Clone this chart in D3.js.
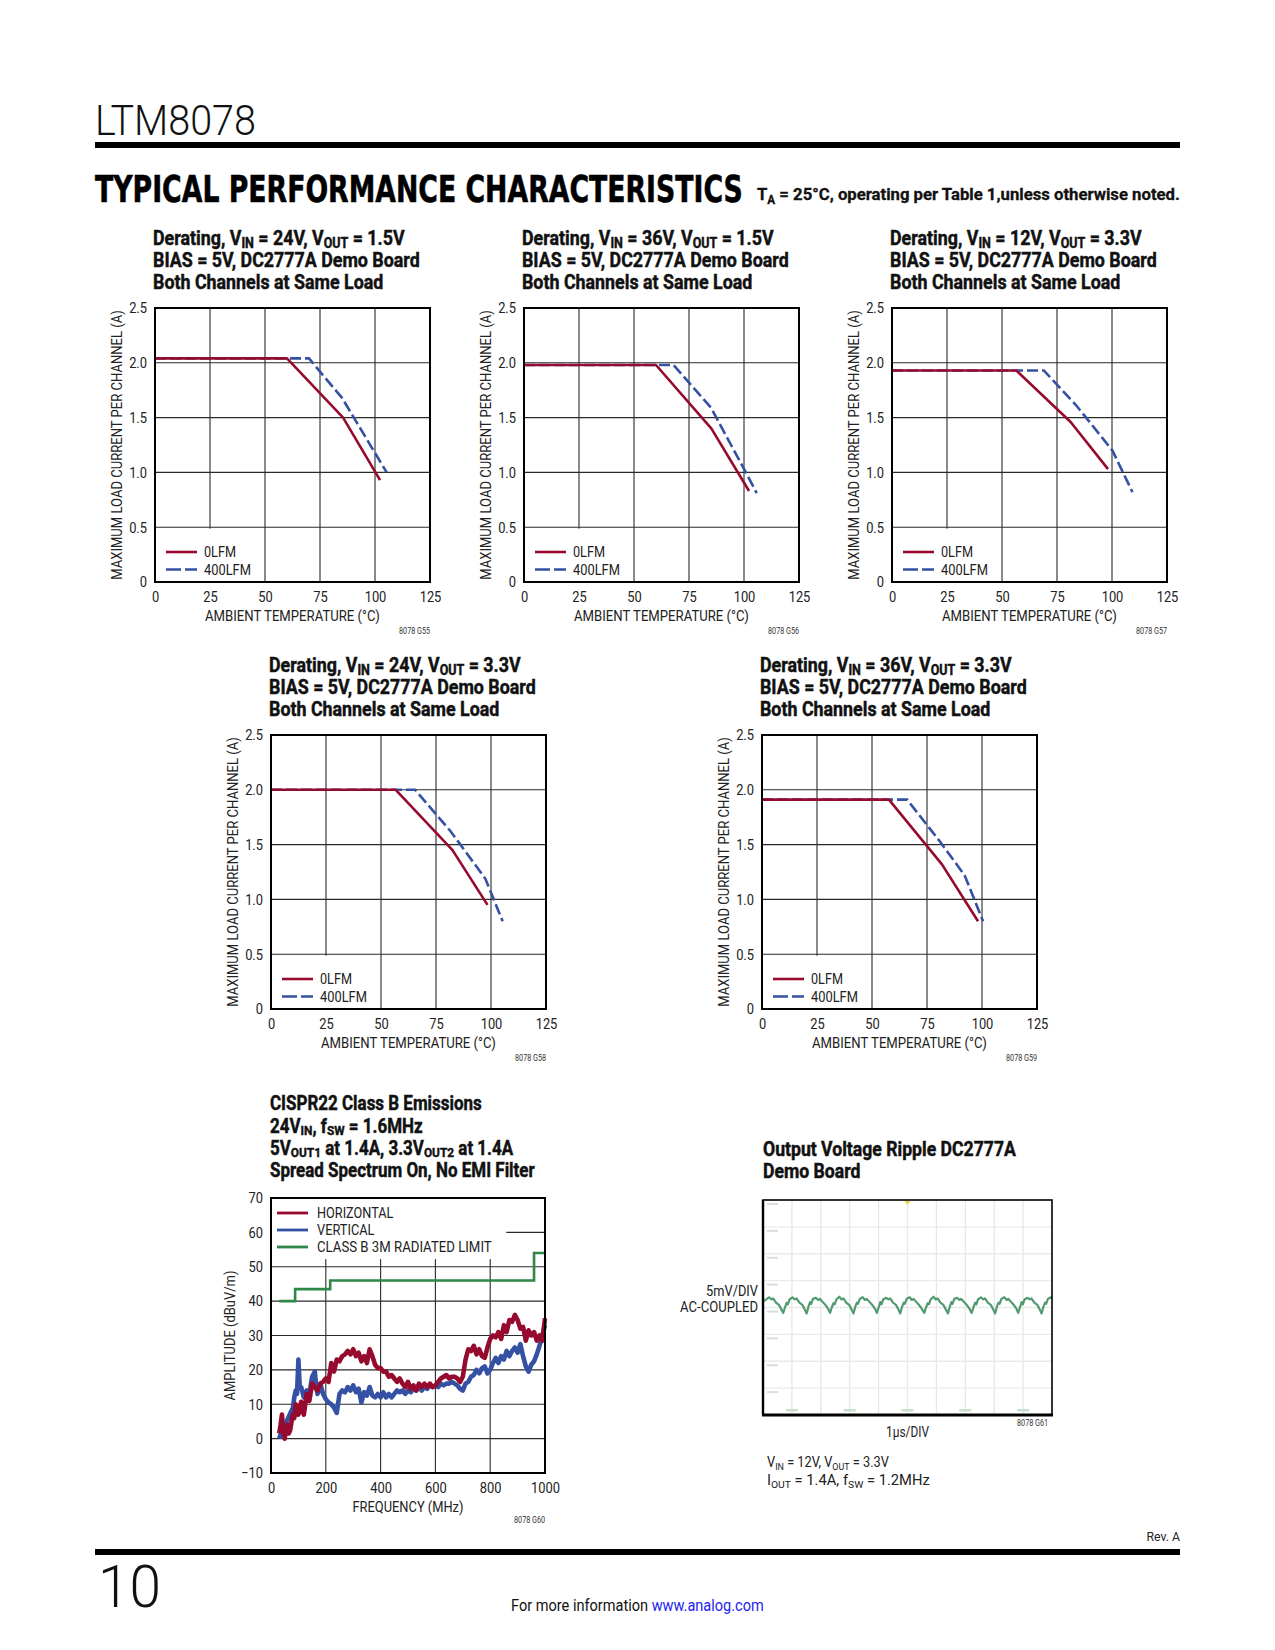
<!DOCTYPE html>
<html><head><meta charset="utf-8">
<script src="https://cdn.jsdelivr.net/npm/d3@7"></script>
<style>body{margin:0;background:#fff}svg{display:block}</style>
</head><body>
<svg id="page" width="1275" height="1650"></svg>
<script>
// ---------------- DATA ----------------
const tempTicks = [0, 25, 50, 75, 100, 125];
const currentTicks = [0, 0.5, 1.0, 1.5, 2.0, 2.5];
const currentTickLabels = ["0", "0.5", "1.0", "1.5", "2.0", "2.5"];
const derateLegend = ["0LFM", "400LFM"];

// [ambient °C, max load current A]
const g55_0LFM = [[0, 2.04], [60, 2.04], [85.5, 1.50], [102.3, 0.93]];
const g55_400LFM = [[0, 2.04], [70, 2.04], [85, 1.68], [105.3, 1.0]];
const g56_0LFM = [[0, 1.98], [60, 1.98], [85.2, 1.40], [102.3, 0.83]];
const g56_400LFM = [[0, 1.98], [68, 1.98], [85, 1.59], [99.5, 1.05], [105.8, 0.81]];
const g57_0LFM = [[0, 1.93], [56.5, 1.93], [81.2, 1.46], [98.2, 1.03]];
const g57_400LFM = [[0, 1.93], [69, 1.93], [83.8, 1.61], [100.2, 1.20], [109.3, 0.82]];
const g58_0LFM = [[0, 2.0], [56.7, 2.0], [82.5, 1.45], [98.4, 0.95]];
const g58_400LFM = [[0, 2.0], [65.5, 2.0], [81.7, 1.62], [97.4, 1.19], [105.3, 0.80]];
const g59_0LFM = [[0, 1.91], [57.7, 1.91], [81.8, 1.32], [98.2, 0.80]];
const g59_400LFM = [[0, 1.91], [66, 1.91], [80.8, 1.53], [92.1, 1.22], [100.5, 0.80]];

// CISPR22 emissions
const freqTicks = [0, 200, 400, 600, 800, 1000];
const ampTicks = [-10, 0, 10, 20, 30, 40, 50, 60, 70];
const ampTickLabels = ["\u221210", "0", "10", "20", "30", "40", "50", "60", "70"];
const emiLegend = ["HORIZONTAL", "VERTICAL", "CLASS B 3M RADIATED LIMIT"];
const limitFreq = [30, 88, 88, 216, 216, 960, 960, 1000];
const limitAmp = [40, 40, 43.5, 43.5, 46, 46, 54, 54];
const horizFreq = [30,35,40,45,50,55,60,65,70,75,80,85,90,95,100,105,110,115,120,125,130,140,150,160,170,180,190,200,210,220,230,240,250,260,270,280,290,300,310,320,330,340,350,360,370,380,390,400,410,420,430,440,450,460,470,480,490,500,510,520,530,540,550,560,570,580,590,600,610,620,630,640,650,660,670,680,690,700,710,720,730,740,750,760,770,780,790,800,810,820,830,840,850,860,870,880,890,900,910,920,930,940,950,960,970,980,990,1000];
const horizAmp = [1.5,4,7,2,0,3,4,1.5,2.5,5,7,6,10,8,7,9,10.7,8,7,10,13,11,16,15,14,16,16.5,17.5,16.5,22,19.5,23,22.5,24,24.5,25.5,24.5,26,24,25,22.5,24,22,26,24,21.5,20.5,20.5,19.5,19.5,18,18.5,17.5,16.5,17.5,16,15,16.5,14.5,15.5,14,16,15,16,15,16,15,15.5,16.5,17.5,18,18.5,17.5,18,18,17.5,16.5,18,23,26,25.5,27,24.5,26,24,23.5,26.5,29,30,29.5,31,29,33,31,34.5,34,36,34.5,32,32.5,28.5,31.5,30,31,28.5,30,28.5,35];
const vertFreq = [30,40,50,60,70,80,85,90,95,100,105,110,120,130,140,150,160,165,170,180,190,200,210,220,230,240,250,260,270,280,290,300,310,320,330,340,350,360,370,380,390,400,410,420,430,440,450,460,470,480,490,500,510,520,530,540,550,560,570,580,590,600,610,620,630,640,650,660,670,680,690,700,710,720,730,740,750,760,770,780,790,800,810,820,830,840,850,860,870,880,890,900,910,920,930,940,950,960,970,980,990,1000];
const vertAmp = [0,2.5,3.5,5.5,7.3,9,12,14,13,23,15,15,12,14,13,18,19.5,15,13,16,13,11.5,10.5,10,9,7.5,13,14,13.5,15,14,15.5,13.5,14.5,10.5,13.5,12.5,15,12.5,12,13,12,13.5,12,13,12,13,14,13.5,14,13,14,13.5,14.5,14,15,14,15,14.5,15.5,15,15.5,15,16,15.5,16,16,16.5,16,15.5,14.5,14,16,16.5,18,18.5,20,19,20.5,21,19,20,22,23.5,22,24,23,25.5,24,25.5,26.5,25,27.5,24,21,19.5,21.5,22.5,24.5,27,30,33];

// Output voltage ripple: [time µs, AC-coupled mV]
const ripple = [
  [0,1.1],[0.11,1.5],[0.21,1.9],[0.29,1.5],[0.35,1.7],[0.45,0.9],[0.55,0.5],[0.63,-0.3],
  [0.70,-1.0],[0.76,0.0],[0.82,0.9],[0.86,0.6],[0.92,1.5],[1.02,1.9],[1.10,1.5],[1.16,1.7],[1.26,0.9],[1.36,0.5],[1.44,-0.3],
  [1.51,-1.1],[1.57,0.1],[1.63,1.0],[1.67,0.7],[1.73,1.6],[1.83,1.8],[1.91,1.4],[1.97,1.6],[2.07,1.0],[2.17,0.4],[2.25,-0.2],
  [2.32,-1.0],[2.38,0.0],[2.44,0.8],[2.48,0.6],[2.54,1.5],[2.64,2.0],[2.72,1.5],[2.78,1.7],[2.88,0.9],[2.98,0.5],[3.06,-0.3],
  [3.13,-1.1],[3.19,0.1],[3.25,0.9],[3.29,0.7],[3.35,1.6],[3.45,1.9],[3.53,1.4],[3.59,1.6],[3.69,1.0],[3.79,0.4],[3.87,-0.2],
  [3.94,-1.0],[4.00,0.0],[4.06,1.0],[4.10,0.6],[4.16,1.5],[4.26,1.8],[4.34,1.5],[4.40,1.7],[4.50,0.9],[4.60,0.5],[4.68,-0.3],
  [4.75,-1.1],[4.81,0.1],[4.87,0.9],[4.91,0.7],[4.97,1.6],[5.07,1.9],[5.15,1.4],[5.21,1.6],[5.31,1.0],[5.41,0.4],[5.49,-0.2],
  [5.58,-1.0],[5.64,0.0],[5.70,0.8],[5.74,0.6],[5.80,1.5],[5.90,2.0],[5.98,1.5],[6.04,1.7],[6.14,0.9],[6.24,0.5],[6.32,-0.3],
  [6.40,-1.1],[6.46,0.1],[6.52,1.0],[6.56,0.7],[6.62,1.6],[6.72,1.8],[6.80,1.4],[6.86,1.6],[6.96,1.0],[7.06,0.4],[7.14,-0.2],
  [7.22,-1.0],[7.28,0.0],[7.34,0.9],[7.38,0.6],[7.44,1.5],[7.54,1.9],[7.62,1.5],[7.68,1.7],[7.78,0.9],[7.88,0.5],[7.96,-0.3],
  [8.03,-1.1],[8.09,0.1],[8.15,0.9],[8.19,0.7],[8.25,1.6],[8.35,1.9],[8.43,1.4],[8.49,1.6],[8.59,1.0],[8.69,0.4],[8.77,-0.2],
  [8.83,-1.0],[8.89,0.0],[8.95,1.0],[8.99,0.6],[9.05,1.5],[9.15,1.8],[9.23,1.5],[9.29,1.7],[9.39,0.9],[9.49,0.5],[9.57,-0.3],
  [9.64,-1.1],[9.70,0.1],[9.76,0.9],[9.80,0.7],[9.86,1.6],[9.96,1.9],[10.0,1.6]
];
const scopeTimeDomain = [0, 10];
const scopeMvDomain = [-20, 20];

// ---------------- STYLE ----------------
const SANS = "Roboto,'Liberation Sans',Arial,sans-serif";
const RED = "#960a2e", BLUE = "#3551a3", GREEN = "#2e8746", INK = "#1a1a1a", GRID = "#2a2a2a";
const TICK_SX = 0.86;
const svg = d3.select("#page");

function buildText(parent, x, y, segs, o) {
  const size = o.size;
  const t = parent.append("text").attr("x", x).attr("y", y)
    .style("font-family", o.family || SANS).style("font-size", size + "px")
    .style("font-weight", o.weight || "normal").attr("fill", o.fill || INK)
    .attr("text-anchor", o.anchor || "start");
  if (o.heavy) t.attr("stroke", o.fill || INK).attr("stroke-width", o.heavy);
  const shift = o.subShift || Math.round(size * 0.2);
  let down = false;
  (typeof segs === "string" ? [segs] : segs).forEach(s => {
    const [str, sub, color] = Array.isArray(s) ? s : [s];
    const ts = t.append("tspan").text(str);
    if (color) ts.attr("fill", color);
    if (sub) {
      ts.style("font-size", (size * 0.7) + "px");
      if (!down) { ts.attr("dy", shift); down = true; }
    } else if (down) { ts.attr("dy", -shift); down = false; }
  });
  return t;
}
function measure(segs, o) {
  const t = buildText(svg, 0, -100, segs, o);
  const w = t.node().getBBox().width;
  t.remove();
  return w;
}
function addText(parent, x, y, segs, o) {
  const t = buildText(parent, x, y, segs, o);
  let k = o.sx || 1;
  if (o.fit) k = o.fit / t.node().getBBox().width;
  const rot = o.rotate || 0;
  if (k !== 1 || rot) t.attr("transform", `translate(${x},${y}) rotate(${rot}) scale(${k},1) translate(${-x},${-y})`);
  return t;
}

function styleAxis(a, size) {
  a.select(".domain").remove();
  a.selectAll("text").style("font-family", SANS).style("font-size", size + "px").attr("fill", "#222")
    .attr("transform", function () {
      const xx = +this.getAttribute("x") || 0;
      return `translate(${xx},0) scale(${TICK_SX},1) translate(${-xx},0)`;
    });
}

const PW = 275, PH = 274;
const TITLE_O = { size: 20, weight: "bold", fill: "#111", heavy: 0.45, subShift: 2.5 };
const deratingTitleK = 267 / measure("BIAS = 5V, DC2777A Demo Board", TITLE_O);

function deratingChart(c) {
  const g = svg.append("g");
  const x = d3.scaleLinear().domain([tempTicks[0], tempTicks[tempTicks.length - 1]]).range([c.left, c.left + PW]);
  const y = d3.scaleLinear().domain([currentTicks[0], currentTicks[currentTicks.length - 1]]).range([c.top + PH, c.top]);
  c.title.forEach((line, i) => addText(g, c.left - 2, c.top - 62.5 + i * 22, line, Object.assign({ sx: deratingTitleK }, TITLE_O)));
  g.append("g").selectAll("line").data(tempTicks.slice(1, -1)).join("line")
    .attr("x1", d => x(d)).attr("x2", d => x(d)).attr("y1", c.top).attr("y2", c.top + PH)
    .attr("stroke", GRID).attr("stroke-width", 1.1);
  g.append("g").selectAll("line").data(currentTicks.slice(1, -1)).join("line")
    .attr("y1", d => y(d)).attr("y2", d => y(d)).attr("x1", c.left).attr("x2", c.left + PW)
    .attr("stroke", GRID).attr("stroke-width", 1.1);
  // legend background
  g.append("rect").attr("x", c.left + 1).attr("y", y(0.5) + 1.5).attr("width", 98)
    .attr("height", y(0) - y(0.5) - 2.5).attr("fill", "#fff");
  const line = d3.line().x(d => x(d[0])).y(d => y(d[1]));
  g.append("path").datum(c.s400).attr("d", line).attr("fill", "none").attr("stroke", BLUE)
    .attr("stroke-width", 2.6).attr("stroke-dasharray", "11,4");
  g.append("path").datum(c.s0).attr("d", line).attr("fill", "none").attr("stroke", RED)
    .attr("stroke-width", 2.6).attr("stroke-linejoin", "round");
  g.append("rect").attr("x", c.left).attr("y", c.top).attr("width", PW).attr("height", PH)
    .attr("fill", "none").attr("stroke", "#000").attr("stroke-width", 2);
  const ax = g.append("g").attr("transform", `translate(0,${c.top + PH})`)
    .call(d3.axisBottom(x).tickValues(tempTicks).tickFormat(d3.format("d")).tickSize(0).tickPadding(9));
  styleAxis(ax, 15);
  const ay = g.append("g").attr("transform", `translate(${c.left},0)`)
    .call(d3.axisLeft(y).tickValues(currentTicks).tickFormat((d, i) => currentTickLabels[i]).tickSize(0).tickPadding(8));
  styleAxis(ay, 15);
  addText(g, c.left + PW / 2, c.top + PH + 39, "AMBIENT TEMPERATURE (°C)", { size: 15, anchor: "middle", fill: "#222", fit: 175 });
  addText(g, c.left - 32.5, c.top + PH / 2, "MAXIMUM LOAD CURRENT PER CHANNEL (A)", { size: 15, anchor: "middle", rotate: -90, fill: "#222", fit: 270 });
  // legend
  const lg = [[derateLegend[0], RED, null, 32], [derateLegend[1], BLUE, "15,4", 47]];
  lg.forEach((d, i) => {
    const yy = c.top + PH - 30 + i * 17.5;
    const l = g.append("line").attr("x1", c.left + 11).attr("x2", c.left + 42).attr("y1", yy).attr("y2", yy)
      .attr("stroke", d[1]).attr("stroke-width", 2.6);
    if (d[2]) l.attr("stroke-dasharray", d[2]);
    addText(g, c.left + 49, yy + 5.3, d[0], { size: 15, fill: "#222", fit: d[3] });
  });
  addText(g, c.left + PW, c.top + PH + 52, c.code, { size: 9, anchor: "end", fill: "#333", fit: 31 });
}

const deratingCharts = [
  { left: 155, top: 308, s0: g55_0LFM, s400: g55_400LFM, code: "8078 G55",
    title: [[["Derating, V"], ["IN", 1], [" = 24V, V"], ["OUT", 1], [" = 1.5V"]], "BIAS = 5V, DC2777A Demo Board", "Both Channels at Same Load"] },
  { left: 524, top: 308, s0: g56_0LFM, s400: g56_400LFM, code: "8078 G56",
    title: [[["Derating, V"], ["IN", 1], [" = 36V, V"], ["OUT", 1], [" = 1.5V"]], "BIAS = 5V, DC2777A Demo Board", "Both Channels at Same Load"] },
  { left: 892, top: 308, s0: g57_0LFM, s400: g57_400LFM, code: "8078 G57",
    title: [[["Derating, V"], ["IN", 1], [" = 12V, V"], ["OUT", 1], [" = 3.3V"]], "BIAS = 5V, DC2777A Demo Board", "Both Channels at Same Load"] },
  { left: 271, top: 735, s0: g58_0LFM, s400: g58_400LFM, code: "8078 G58",
    title: [[["Derating, V"], ["IN", 1], [" = 24V, V"], ["OUT", 1], [" = 3.3V"]], "BIAS = 5V, DC2777A Demo Board", "Both Channels at Same Load"] },
  { left: 762, top: 735, s0: g59_0LFM, s400: g59_400LFM, code: "8078 G59",
    title: [[["Derating, V"], ["IN", 1], [" = 36V, V"], ["OUT", 1], [" = 3.3V"]], "BIAS = 5V, DC2777A Demo Board", "Both Channels at Same Load"] }
];
deratingCharts.forEach(deratingChart);

// ---------------- CISPR22 ----------------
(function () {
  const left = 271, top = 1198, W = 274, H = 275;
  const g = svg.append("g");
  const x = d3.scaleLinear().domain([freqTicks[0], freqTicks[freqTicks.length - 1]]).range([left, left + W]);
  const y = d3.scaleLinear().domain([ampTicks[0], ampTicks[ampTicks.length - 1]]).range([top + H, top]);
  const title = ["CISPR22 Class B Emissions",
    [["24V"], ["IN", 1], [", f"], ["SW", 1], [" = 1.6MHz"]],
    [["5V"], ["OUT1", 1], [" at 1.4A, 3.3V"], ["OUT2", 1], [" at 1.4A"]],
    "Spread Spectrum On, No EMI Filter"];
  const TO = { size: 19.5, weight: "bold", fill: "#111", heavy: 0.45, subShift: 2.5 };
  const k = 265 / measure("Spread Spectrum On, No EMI Filter", TO);
  title.forEach((line, i) => addText(g, left - 1, top - 87.5 + i * 22.2, line, Object.assign({ sx: k }, TO)));
  g.append("g").selectAll("line").data(freqTicks.slice(1, -1)).join("line")
    .attr("x1", d => x(d)).attr("x2", d => x(d)).attr("y1", top).attr("y2", top + H)
    .attr("stroke", GRID).attr("stroke-width", 1.1);
  g.append("g").selectAll("line").data(ampTicks.slice(1, -1)).join("line")
    .attr("y1", d => y(d)).attr("y2", d => y(d)).attr("x1", left).attr("x2", left + W)
    .attr("stroke", GRID).attr("stroke-width", 1.1);
  g.append("rect").attr("x", left + 1).attr("y", top + 1).attr("width", x(855) - left)
    .attr("height", y(52.5) - top).attr("fill", "#fff");
  const ln = d3.line().x(d => x(d[0])).y(d => y(d[1]));
  g.append("path").datum(limitFreq.map((f, i) => [f, limitAmp[i]])).attr("d", ln)
    .attr("fill", "none").attr("stroke", GREEN).attr("stroke-width", 2.6);
  g.append("path").datum(vertFreq.map((f, i) => [f, vertAmp[i]])).attr("d", ln)
    .attr("fill", "none").attr("stroke", BLUE).attr("stroke-width", 4.6).attr("stroke-linejoin", "round");
  g.append("path").datum(horizFreq.map((f, i) => [f, horizAmp[i]])).attr("d", ln)
    .attr("fill", "none").attr("stroke", RED).attr("stroke-width", 4.6).attr("stroke-linejoin", "round");
  g.append("rect").attr("x", left).attr("y", top).attr("width", W).attr("height", H)
    .attr("fill", "none").attr("stroke", "#000").attr("stroke-width", 2);
  const ax = g.append("g").attr("transform", `translate(0,${top + H})`)
    .call(d3.axisBottom(x).tickValues(freqTicks).tickFormat(d3.format("d")).tickSize(0).tickPadding(9));
  styleAxis(ax, 15);
  const ay = g.append("g").attr("transform", `translate(${left},0)`)
    .call(d3.axisLeft(y).tickValues(ampTicks).tickFormat((d, i) => ampTickLabels[i]).tickSize(0).tickPadding(8));
  styleAxis(ay, 15);
  addText(g, left + W / 2, top + H + 39, "FREQUENCY (MHz)", { size: 15, anchor: "middle", fill: "#222", fit: 111 });
  addText(g, left - 36, top + H / 2, "AMPLITUDE (dBuV/m)", { size: 15, anchor: "middle", rotate: -90, fill: "#222", fit: 130 });
  const lw = [76.7, 57.7, 175];
  [RED, BLUE, GREEN].forEach((col, i) => {
    const yy = top + 15 + i * 17;
    g.append("line").attr("x1", left + 6).attr("x2", left + 37).attr("y1", yy).attr("y2", yy)
      .attr("stroke", col).attr("stroke-width", 2.8);
    addText(g, left + 46, yy + 5, emiLegend[i], { size: 14.5, fill: "#222", fit: lw[i] });
  });
  addText(g, left + W, top + H + 50, "8078 G60", { size: 9, anchor: "end", fill: "#333", fit: 31 });
})();

// ---------------- SCOPE ----------------
(function () {
  const left = 763, top = 1200, W = 289, H = 215;
  const g = svg.append("g");
  const x = d3.scaleLinear().domain(scopeTimeDomain).range([left, left + W]);
  const y = d3.scaleLinear().domain(scopeMvDomain).range([top + H, top]);
  const TO = { size: 19.5, weight: "bold", fill: "#111", heavy: 0.45 };
  const k = 254 / measure("Output Voltage Ripple DC2777A", TO);
  addText(g, left, 1156, "Output Voltage Ripple DC2777A", Object.assign({ sx: k }, TO));
  addText(g, left, 1178, "Demo Board", Object.assign({ sx: k }, TO));
  const vt = d3.range(1, 10), ht = d3.range(-15, 20, 5);
  g.append("g").selectAll("line").data(vt).join("line")
    .attr("x1", d => x(d)).attr("x2", d => x(d)).attr("y1", top).attr("y2", top + H)
    .attr("stroke", "#e4e9e4").attr("stroke-width", 1.3);
  g.append("g").selectAll("line").data(ht).join("line")
    .attr("y1", d => y(d)).attr("y2", d => y(d)).attr("x1", left).attr("x2", left + W)
    .attr("stroke", "#e8ece8").attr("stroke-width", 1.3);
  // faint on-screen scale marks
  g.append("g").selectAll("rect").data(ht.concat([20])).join("rect")
    .attr("x", left + 4).attr("y", d => y(d) + 3).attr("width", 11).attr("height", 2).attr("fill", "#d9ded9");
  g.append("g").selectAll("rect").data([1, 3, 5, 7, 9]).join("rect")
    .attr("x", d => x(d) - 6).attr("y", top + H - 6).attr("width", 12).attr("height", 2.5).attr("fill", "#c8dfcc");
  g.append("path").attr("d", `M${x(5) - 3},${top + 1}L${x(5) + 3},${top + 1}L${x(5)},${top + 5}Z`).attr("fill", "#f2d24a");
  g.append("path").datum(ripple)
    .attr("d", d3.line().x(d => x(d[0])).y(d => y(d[1])))
    .attr("fill", "none").attr("stroke", "#3f8f60").attr("stroke-width", 2.2).attr("stroke-linejoin", "round").attr("opacity", 0.9);
  g.append("rect").attr("x", left).attr("y", top).attr("width", W).attr("height", H)
    .attr("fill", "none").attr("stroke", "#000").attr("stroke-width", 1.6);
  g.append("line").attr("x1", left - 1).attr("x2", left + W + 1).attr("y1", top + H).attr("y2", top + H)
    .attr("stroke", "#000").attr("stroke-width", 3);
  g.append("line").attr("x1", left).attr("x2", left).attr("y1", top).attr("y2", top + H)
    .attr("stroke", "#000").attr("stroke-width", 2.4);
  addText(g, left - 5, 1296, "5mV/DIV", { size: 14, anchor: "end", fill: "#222", fit: 52 });
  addText(g, left - 5, 1312, "AC-COUPLED", { size: 14, anchor: "end", fill: "#222", fit: 78 });
  addText(g, x(5), 1437, "1µs/DIV", { size: 14, anchor: "middle", fill: "#222", fit: 43 });
  addText(g, left + W - 4, 1426, "8078 G61", { size: 9, anchor: "end", fill: "#333", fit: 31 });
  addText(g, 767, 1467, [["V"], ["IN", 1], [" = 12V, V"], ["OUT", 1], [" = 3.3V"]], { size: 14, fill: "#222", subShift: 3, fit: 122 });
  addText(g, 767, 1485, [["I"], ["OUT", 1], [" = 1.4A, f"], ["SW", 1], [" = 1.2MHz"]], { size: 14, fill: "#222", subShift: 3, fit: 163 });
})();

// ---------------- PAGE FURNITURE ----------------
addText(svg, 95, 135, "LTM8078", { size: 42, family: "Roboto,'Open Sans',sans-serif", weight: 300, fill: "#111", fit: 161 });
svg.append("rect").attr("x", 95).attr("y", 142).attr("width", 1085).attr("height", 6).attr("fill", "#000");
addText(svg, 95, 202, "TYPICAL PERFORMANCE CHARACTERISTICS", { size: 37, family: "'DejaVu Sans',sans-serif", weight: "bold", fill: "#000", fit: 648, heavy: 0.6 });
addText(svg, 757, 200, [["T"], ["A", 1], [" = 25°C, operating per Table 1,unless otherwise noted."]], { size: 17, weight: "bold", fill: "#111", fit: 423, subShift: 4, heavy: 0.3 });
addText(svg, 1180, 1541, "Rev. A", { size: 13, anchor: "end", fill: "#222", fit: 34 });
svg.append("rect").attr("x", 95).attr("y", 1549).attr("width", 1085).attr("height", 6).attr("fill", "#000");
addText(svg, 98, 1607, "10", { size: 60, family: "Roboto,'Open Sans',sans-serif", weight: 300, fill: "#111", fit: 63 });
addText(svg, 511, 1611, [["For more information "], ["www.analog.com", 0, "#2323ee"]], { size: 17, fill: "#111", fit: 253 });
</script>
</body></html>
